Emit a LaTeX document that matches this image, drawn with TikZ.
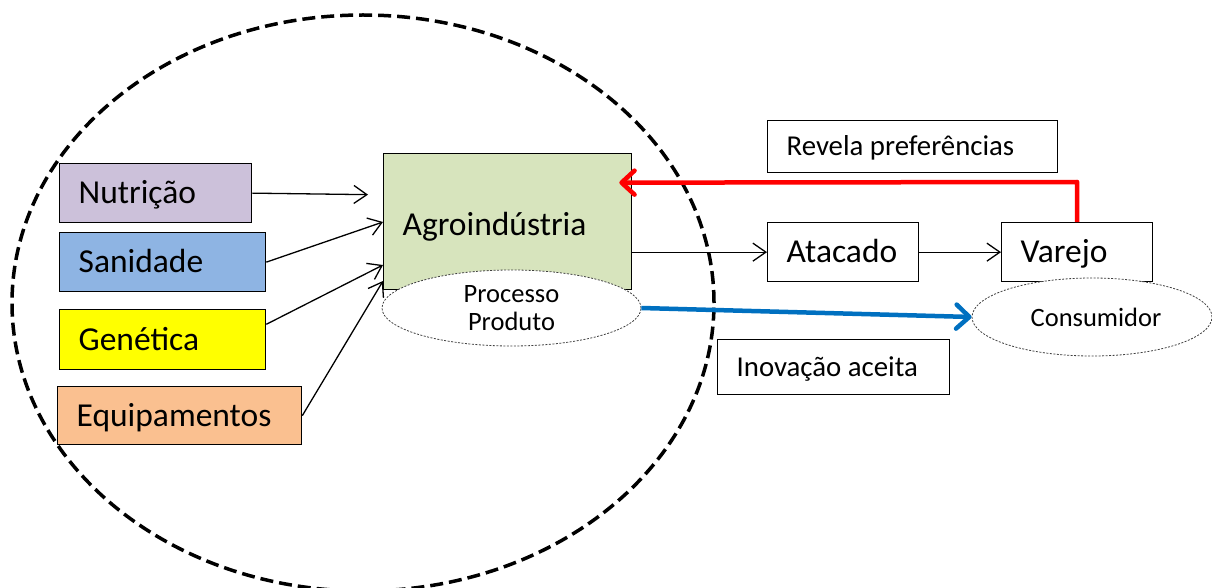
\documentclass[tikz,border=0pt]{standalone}
\usepackage{fontspec}
\setmainfont{Carlito}
\usetikzlibrary{shapes.geometric,arrows.meta,calc}

\definecolor{nutcol}{RGB}{204,193,218}
\definecolor{sancol}{RGB}{142,180,227}
\definecolor{gencol}{RGB}{255,255,0}
\definecolor{equcol}{RGB}{250,192,144}
\definecolor{agrocol}{RGB}{215,228,189}
\definecolor{redline}{RGB}{255,0,0}
\definecolor{blueline}{RGB}{0,112,192}

\begin{document}
\begin{tikzpicture}[x=1pt,y=-1pt,
  box/.style={draw=black,line width=1.3pt,anchor=north west,inner xsep=19pt,
    inner ysep=0pt,align=flush left,text height=21.6pt,text depth=0pt,
    font=\fontsize{33.5}{40}\selectfont},
  smallbox/.style={box,text height=18.5pt,font=\fontsize{28.8}{34}\selectfont},
  oval/.style={ellipse,draw=black!75,line width=0.8pt,dash pattern=on 2pt off 1.5pt,
    fill=white,inner sep=0pt,align=center,font=\fontsize{26.5}{29}\selectfont},
  conn/.style={draw=black,line width=1.3pt,-{Straight Barb[length=13pt,width=18pt]}},
  thickarrow/.style={line width=4.5pt,line join=round,
    -{Straight Barb[length=13pt,width=24pt,line cap=round,line join=round]}},
  boundary/.style={draw=black,line width=3.5pt,dash pattern=on 13pt off 6pt}
]
\useasboundingbox (0,0) rectangle (1212,588);

% agro-industrial system boundary
\draw[boundary] (363,303) ellipse [x radius=351pt, y radius=288pt];

% input boxes
\node[box,fill=nutcol,text width=154pt,minimum height=59pt] (nut) at (59,163) {Nutrição};
\node[box,fill=sancol,text width=168pt,minimum height=59pt] (san) at (59,232) {Sanidade};
\node[box,fill=gencol,text width=168pt,minimum height=60pt] (gen) at (59,309) {Genética};
\node[box,fill=equcol,text width=206pt,minimum height=58pt] (equ) at (57,386) {Equipamentos};

% agro-industry and its innovation
\node[box,fill=agrocol,text width=210pt,minimum height=136pt,text height=28.6pt] (agro) at (383,153) {Agroindústria};
\node[oval,minimum width=259pt,minimum height=76pt] (proc) at (511.5,308) {Processo\\[-1pt]Produto};

% distribution chain
\node[box,text width=113pt,minimum height=59pt] (ata) at (767,222) {Atacado};
\node[box,text width=113pt,minimum height=59pt] (var) at (1001,222) {Varejo};
\node[oval,minimum width=240pt,minimum height=78pt] (cons) at (1092,317) {\hspace*{8pt}Consumidor};

% labels
\node[smallbox,text width=252pt,minimum height=52pt] (rev) at (767,120) {Revela preferências};
\node[smallbox,text width=194pt,minimum height=55pt] (ino) at (717,339) {Inovação aceita};

% inputs into the agro-industry
\coordinate (nutend) at ($(agro.west)+(-15,-27)$);
\draw[conn] (nut.east) -- (nutend);
\draw[conn] (san.east) -- ($(agro.north west)+(0,69)$);
\draw[conn] ($(gen.north east)!0.25!(gen.south east)$) -- ($(agro.north west)+(0,112)$);
\draw[conn] (equ.east) -- ($(agro.north west)+(0,128)$);

% product flow
\draw[conn] (agro.east |- ata.west) -- (ata.west);
\draw[conn] (ata.east) -- (var.west);

% feedback and accepted innovation
\coordinate (redtip) at ($(agro.east)+(-13,-39)$);
\draw[thickarrow,draw=redline] (var.north) -- ++(0,-40) -- (redtip);
\draw[thickarrow,draw=blueline] (proc.east) -- (cons.west);
\end{tikzpicture}
\end{document}
